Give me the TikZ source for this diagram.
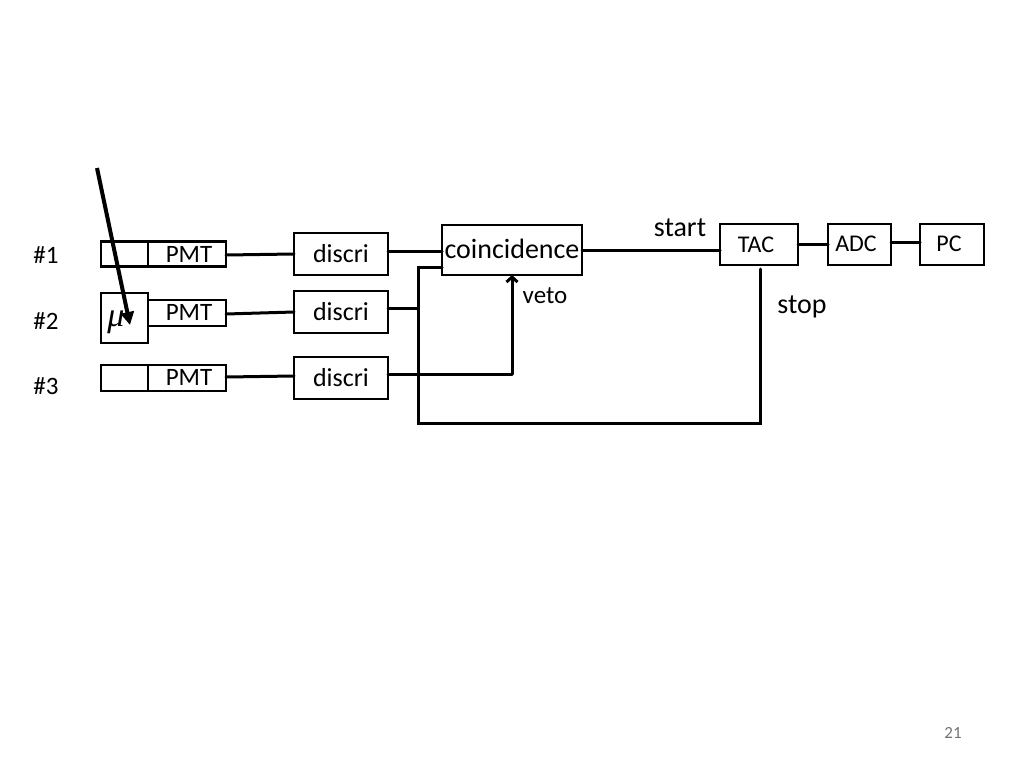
\documentclass[tikz,border=0pt]{standalone}
\usepackage{fontspec}
\setmainfont{Carlito}
\newfontfamily\muserif{Liberation Serif}
\usetikzlibrary{arrows.meta}
\begin{document}
\begin{tikzpicture}[x=1pt,y=-1pt,
  box/.style={draw=black,line width=2.6pt,inner sep=0pt,outer sep=0pt},
  wire/.style={line width=3pt,line cap=round},
  lbl/.style={inner sep=0pt,font=\fontsize{25}{30}\selectfont},
  pmtfont/.style={font=\fontsize{25}{30}\selectfont},
  discfont/.style={font=\fontsize{26}{30}\selectfont}
]
\useasboundingbox (0,0) rectangle (1024,768);
\fill[white] (0,0) rectangle (1024,768);
% channel labels
\node[lbl] (n1) at (46,255) {\#1};
\node[lbl] (n2) at (46,321) {\#2};
\node[lbl] (n3) at (46,386) {\#3};
% scintillators and PMTs
\node[box,minimum width=47pt,minimum height=25pt] (s1) at (124.5,254) {};
\node[box,minimum width=78pt,minimum height=25pt] (p1) at (187,254) {};
\node[lbl,pmtfont] (p1t) at (189,254) {PMT};
\node[box,minimum width=47pt,minimum height=50pt] (s2) at (124.5,318) {};
\node[lbl] (mu) at (116,322) {\muserif\itshape\fontsize{34}{38}\selectfont μ};
\node[box,minimum width=78pt,minimum height=26pt] (p2) at (187,313) {};
\node[lbl,pmtfont] (p2t) at (189,312) {PMT};
\node[box,minimum width=47pt,minimum height=26pt] (s3) at (124.5,378) {};
\node[box,minimum width=78pt,minimum height=26pt] (p3) at (187,378) {};
\node[lbl,pmtfont] (p3t) at (189,377) {PMT};
% discriminators
\node[box,discfont,minimum width=94pt,minimum height=42pt] (d1) at (341,254) {discri};
\node[box,discfont,minimum width=94pt,minimum height=42pt] (d2) at (341,312) {discri};
\node[box,discfont,minimum width=94pt,minimum height=42pt] (d3) at (341,378) {discri};
% coincidence
\node[box,minimum width=140pt,minimum height=50pt] (co) at (512,250) {};
\node[lbl,font=\fontsize{28}{32}\selectfont] (cot) at (512,249) {coincidence};
% TAC ADC PC
\node[box,minimum width=78pt,minimum height=41pt] (tac) at (759,244.5) {};
\node[lbl,font=\fontsize{24}{28}\selectfont] (tact) at (756,245) {TAC};
\node[box,minimum width=63pt,minimum height=41pt] (adc) at (859.5,244.5) {};
\node[lbl,font=\fontsize{24}{28}\selectfont] (adct) at (856,244) {ADC};
\node[box,minimum width=64pt,minimum height=41pt] (pc) at (952,244.5) {};
\node[lbl,font=\fontsize{24}{28}\selectfont] (pct) at (949,244) {PC};
% labels
\node[lbl,font=\fontsize{28}{32}\selectfont] (start) at (680,228) {start};
\node[lbl,font=\fontsize{28}{32}\selectfont] (stop) at (802,307) {stop};
\node[lbl,font=\fontsize{25}{29}\selectfont] (veto) at (545,296) {veto};
\node[lbl,font=\fontsize{17}{20}\selectfont,text=black!55] (pg) at (953,733) {21};
% coordinates
\coordinate (m0) at (97,168);
\coordinate (m1) at (130,325);
\coordinate (b2) at (418,308);
\coordinate (btop) at (418,267);
\coordinate (bbot) at (418,423);
\coordinate (tbot) at (760,423);
\coordinate (ttop) at (760,269);
\coordinate (v3) at (512,374);
% wires
\draw[wire] (p1.east |- 0,255) -- (d1.west |- 0,254);
\draw[wire] (p2.east |- 0,314) -- (d2.west |- 0,312);
\draw[wire] (p3.east |- 0,377) -- (d3.west |- 0,376);
\draw[wire] (d1.east |- 0,251) -- (co.west |- 0,251);
\draw[wire] (d2.east |- 0,308) -- (b2);
\draw[wire] (co.west |- btop) -- (btop) -- (bbot) -- (tbot) -- (ttop);
\draw[wire] (d3.east |- 0,374) -- (v3);
\draw[wire,-{Straight Barb[length=5pt,width=11pt]}] (v3) -- (co.south -| v3);
\draw[wire] (co.east |- 0,250) -- (tac.west |- 0,250);
\draw[wire] (tac.east |- 0,244) -- (adc.west |- 0,244);
\draw[wire] (adc.east |- 0,242) -- (pc.west |- 0,242);
\draw[line width=4pt,-{Triangle[length=13pt,width=13pt]}] (m0) -- (m1);
\end{tikzpicture}
\end{document}
